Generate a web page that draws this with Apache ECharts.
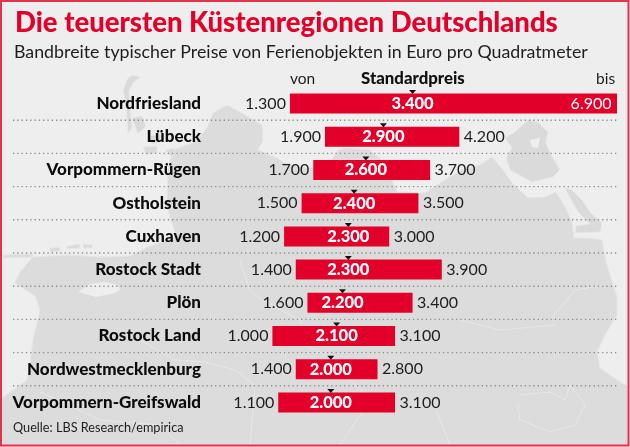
<!DOCTYPE html>
<html><head><meta charset="utf-8">
<style>html,body{margin:0;padding:0;background:#eee}#c{width:630px;height:447px}</style>
<script src="https://cdn.jsdelivr.net/npm/echarts@6/dist/echarts.min.js"></script>
</head><body><div id="c"></div>
<script>
const regions = ['Nordfriesland','Lübeck','Vorpommern-Rügen','Ostholstein','Cuxhaven','Rostock Stadt','Plön','Rostock Land','Nordwestmecklenburg','Vorpommern-Greifswald'];
const lows = [1300,1900,1700,1500,1200,1400,1600,1000,1400,1100];
const standards = [3400,2900,2600,2400,2300,2300,2200,2100,2000,2000];
const highs = [6900,4200,3700,3500,3000,3900,3400,3100,2800,3100];

const FONT = 'Lato';
const RED = '#e2002b', INK = '#1e1e1e', CLEAR = 'rgba(0,0,0,0)';
const fmt = v => String(v).replace(/\B(?=(\d{3})+$)/g, '.');

// decorative background map outlines (not data)
const land = [[227,105],[240,112],[250,118],[262,125],[263,140],[258,150],[277,158],[283,162],[307,168],[328,166],[338,150],[345,148],[370,150],[382,160],[392,180],[397,192],[425,193],[445,180],[462,170],[480,165],[492,157],[503,170],[512,183],[528,198],[545,197],[556,192],[564,205],[572,222],[574,238],[590,238],[602,240],[606,262],[617,297],[617,315],[605,335],[597,352],[600,368],[617,380],[628,386],[628,445],[2,445],[2,398],[27,380],[30,363],[33,340],[40,310],[35,296],[15,283],[20,272],[33,257],[67,255],[100,257],[130,256],[150,246],[177,237],[170,218],[167,203],[168,170],[173,150],[195,142],[207,128],[213,113]];
const bay = [[78,292],[90,284],[105,282],[118,285],[120,290],[115,293],[96,297]];
const islands = [
 [[126,104],[123,90],[128,78],[133,75],[140,77],[133,83],[129,92],[130,108],[132,128],[128,133]],
 [[132,118],[142,116],[146,126],[138,134]],
 [[143,147],[157,146],[157,153],[146,154]],
 [[150,136],[160,134],[160,142],[152,144]],
 [[165,150],[175,148],[172,158]],
 [[528,120],[538,122],[548,132],[546,143],[550,153],[560,170],[553,177],[532,182],[510,170],[506,158],[512,148],[505,138],[515,132]],
 [[565,188],[572,190],[582,200],[590,212],[602,223],[600,232],[575,233],[576,226],[590,224],[578,212],[570,198]],
 [[3,255],[33,254],[33,257],[3,258]],[[50,248],[60,247],[60,251],[50,252]],[[67,246],[80,244],[80,248],[67,249]],[[83,244],[93,245],[92,248],[83,248]]
];
const inlet = [[530,140],[540,138],[538,148],[532,147]];
const borders = [
 [[240,262],[250,290],[262,300],[300,320],[306,345],[326,355],[370,400],[340,445]],
 [[140,340],[175,360],[205,362],[235,370],[255,385],[250,445]],
 [[520,395],[550,392],[565,400],[570,385],[585,405],[575,425],[550,432],[520,420],[518,405]],
 [[436,410],[450,445]],
 [[40,392],[100,420],[160,425],[180,445]],
 [[550,320],[575,290],[605,285]],
 [[460,320],[500,330],[555,325]]
];
const deco = [
 {type:'polygon',z:-3,shape:{points:land},style:{fill:'#dcdcdc',stroke:'#e6e6e6',lineWidth:1}},
 {type:'polygon',z:-2,shape:{points:bay},style:{fill:'#eeeeee'}},
 {type:'polygon',z:-2,shape:{points:inlet},style:{fill:'#eeeeee'}},
 ...islands.map(p=>({type:'polygon',z:-3,shape:{points:p},style:{fill:'#dadada',stroke:'#e8e8e8',lineWidth:1}})),
 ...borders.map(p=>({type:'polyline',z:-2,shape:{points:p},style:{fill:null,stroke:'#e8e8e8',lineWidth:1}})),
 {type:'rect',z:50,shape:{x:1,y:1,width:627.5,height:444.5},style:{fill:null,stroke:'#e2334f',lineWidth:2}},
 {type:'text',z:60,x:15,y:9,style:{text:'Die teuersten Küstenregionen Deutschlands',fill:RED,font:'900 27.5px '+FONT}},
 {type:'text',z:60,x:14,y:43,style:{text:'Bandbreite typischer Preise von Ferienobjekten in Euro pro Quadratmeter',fill:INK,font:'400 17.8px '+FONT}},
 {type:'text',z:60,x:290,y:71,style:{text:'von',fill:INK,font:'400 15.5px '+FONT}},
 {type:'text',z:60,x:361,y:70,style:{text:'Standardpreis',fill:'#111',font:'900 16.8px '+FONT}},
 {type:'text',z:60,x:596,y:71,style:{text:'bis',fill:INK,font:'400 15.5px '+FONT}},
 {type:'text',z:60,x:13,y:421,style:{text:'Quelle: LBS Research/empirica',fill:INK,font:'400 12.7px '+FONT}}
];

const chart = echarts.init(document.getElementById('c'),null,{renderer:'canvas'});
chart.setOption({
  animation:false,
  backgroundColor:'#eeeeee',
  graphic:{elements:deco},
  grid:{left:214,top:87,width:403,height:332,containLabel:false},
  xAxis:{type:'value',min:0,max:6900,show:false,splitLine:{show:false}},
  yAxis:{type:'category',inverse:true,data:regions,
    axisLine:{show:false},axisTick:{show:false},
    axisLabel:{margin:13,align:'right',color:'#0c0c0c',fontFamily:FONT,fontWeight:900,fontSize:17}},
  series:[
    {type:'custom',silent:true,z:1,data:regions.slice(1).map((r,i)=>[0,i]),
      renderItem:(p,api)=>{
        const y=api.coord([0,api.value(1)])[1]+api.size([0,1])[1]/2;
        return {type:'line',shape:{x1:13,x2:617,y1:y,y2:y},
          style:{stroke:'#8a8a8a',lineWidth:1.4,lineDash:[1.3,3]}};
      }},
    {type:'bar',stack:'r',barWidth:20,z:3,data:lows,itemStyle:{color:CLEAR},
      label:{show:true,position:'insideRight',distance:4,color:INK,fontFamily:FONT,fontSize:16,formatter:o=>fmt(o.value)}},
    {type:'bar',stack:'r',barWidth:20,z:3,data:highs.map((h,i)=>h-lows[i]),itemStyle:{color:RED}},
    {type:'scatter',z:4,symbol:'triangle',symbolRotate:180,symbolSize:[7,4],symbolOffset:[0,-11.5],
      itemStyle:{color:'#111',opacity:1},data:standards.map((s,i)=>[s,regions[i]])},
    {type:'scatter',z:5,symbolSize:1,itemStyle:{color:CLEAR,opacity:1},data:standards.map((s,i)=>[s,regions[i]]),
      label:{show:true,position:'inside',color:'#fff',fontFamily:FONT,fontWeight:900,fontSize:16.5,formatter:o=>fmt(o.value[0])}},
    {type:'scatter',z:5,symbolSize:1,itemStyle:{color:CLEAR,opacity:1},
      data:highs.map((h,i)=>({value:[h,regions[i]],
        label:h===6900?{position:'left',distance:5,color:'#fff'}:{position:'right',distance:4,color:INK}})),
      label:{show:true,fontFamily:FONT,fontSize:16,formatter:o=>fmt(o.value[0])}}
  ]
});
</script></body></html>
